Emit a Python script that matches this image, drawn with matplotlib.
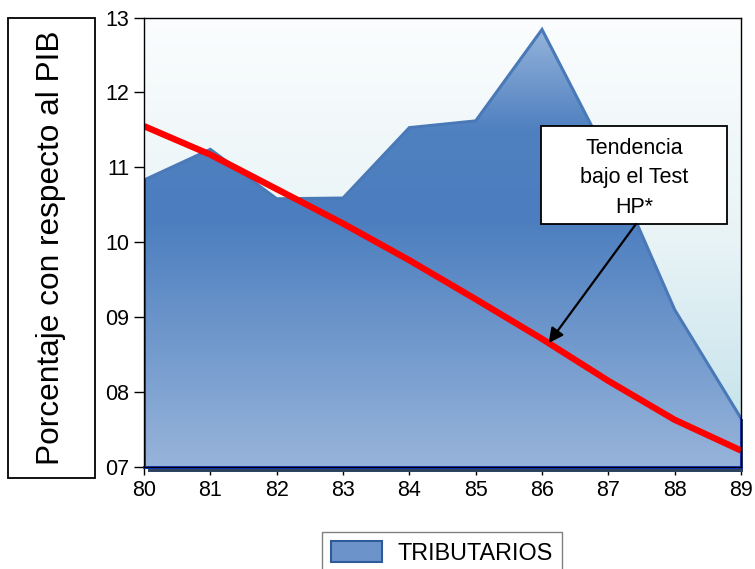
import numpy as np
import matplotlib
matplotlib.use("Agg")
import matplotlib.pyplot as plt
from matplotlib.colors import LinearSegmentedColormap
from matplotlib.patches import Rectangle, Patch

plt.rcParams['font.family'] = ['Liberation Sans', 'DejaVu Sans']

# --- DATA ---
years = [80, 81, 82, 83, 84, 85, 86, 87, 88, 89]
tributarios = [10.83, 11.24, 10.58, 10.59, 11.53, 11.62, 12.84, 11.12, 9.10, 7.65]
hp_trend = [11.55, 11.17, 10.71, 10.25, 9.76, 9.24, 8.71, 8.15, 7.63, 7.22]
y_ticks = [7, 8, 9, 10, 11, 12, 13]
y_tick_labels = ["%02d" % v for v in y_ticks]

x = np.array(years, dtype=float)
y = np.array(tributarios)
trend = np.array(hp_trend)

# --- FIGURE ---
fig = plt.figure(figsize=(7.55, 5.69), dpi=100)
ax = fig.add_axes([144/755, 1 - 467/569, 597/755, 449.5/569])
ax.set_xlim(x[0], x[-1])
ax.set_ylim(7, 13)

# background gradient (white at top -> pale cyan at bottom)
bg_cmap = LinearSegmentedColormap.from_list("bg", ["#bfe0e9", "#e8f3f6", "#fbfdfe"])
grad = np.linspace(0, 1, 256).reshape(-1, 1)
ax.imshow(grad, cmap=bg_cmap, origin="lower", aspect="auto",
          extent=[x[0], x[-1], 7, 13], zorder=0)

# area with vertical gradient, clipped to the filled polygon
area = ax.fill_between(x, 7, y, facecolor="none", edgecolor="none", zorder=1)
area_cmap = LinearSegmentedColormap.from_list(
    "area", [(0.0, "#97b4da"), (0.55, "#4c7ebf"), (0.75, "#4f80c0"), (1.0, "#9cb9dd")])
img = ax.imshow(grad, cmap=area_cmap, origin="lower", aspect="auto",
                extent=[x[0], x[-1], 7, 13], zorder=2)
img.set_clip_path(area.get_paths()[0], transform=ax.transData)

# outline of the area
ax.plot(x, y, color="#4a79b8", lw=2.2, zorder=3, solid_joinstyle="miter")
ax.plot([x[0], x[0]], [7, y[0]], color="#1e3ed2", lw=2.2, zorder=3)
ax.plot([x[-1], x[-1]], [7, y[-1]], color="#1e3ed2", lw=2.2, zorder=3)
ax.plot([x[0], x[-1]], [7.005, 7.005], color="#1e3ed2", lw=2.2, zorder=3, clip_on=False)

# drop shadow below and right of the area
ax.add_patch(Rectangle((0.006, -0.012), 0.997, 0.009, transform=ax.transAxes,
                       facecolor="#2c4460", edgecolor="none", clip_on=False, zorder=2))
ax.add_patch(Rectangle((1.0, -0.012), 0.004, (y[-1] - 7) / 6 + 0.01, transform=ax.transAxes,
                       facecolor="#2c4460", edgecolor="none", clip_on=False, zorder=2))

# HP trend line
ax.plot(x, trend, color="#ff0000", lw=4.6, zorder=5, solid_capstyle="butt")

# annotation box and arrow
ax.add_patch(Rectangle((0.665, 0.5406), 0.3115, 0.218, transform=ax.transAxes,
                       facecolor="white", edgecolor="black", lw=1.3, zorder=6))
ax.text(0.821, 0.643, "Tendencia\nbajo el Test\nHP*", transform=ax.transAxes,
        ha="center", va="center", fontsize=15.5, linespacing=1.55, zorder=7)
ax.annotate("", xy=(86.1, np.interp(86.1, x, trend)), xytext=(0.824, 0.5406),
            textcoords="axes fraction",
            arrowprops=dict(arrowstyle="-|>", color="black", lw=1.6, mutation_scale=22,
                            shrinkA=0, shrinkB=0),
            zorder=7)

# axes styling
for s in ax.spines.values():
    s.set_color("black")
    s.set_linewidth(1.0)
    s.set_zorder(8)
ax.set_xticks(years)
ax.set_xticklabels([str(v) for v in years])
ax.set_yticks(y_ticks)
ax.set_yticklabels(y_tick_labels)
ax.tick_params(axis="both", labelsize=15.5, color="black", width=1.0)
ax.tick_params(axis="y", length=7.5, pad=3)
ax.tick_params(axis="x", length=6, pad=3)

# y label inside its own box
fig.add_artist(Rectangle((8/755, 1 - 478/569), 87/755, 460/569, transform=fig.transFigure,
                         facecolor="white", edgecolor="black", lw=1.3))
fig.text(51/755, 1 - 248/569, "Porcentaje con respecto al PIB", rotation=90,
         ha="center", va="center", fontsize=22.8)

# legend below the chart
handle = Patch(facecolor="#6d94ca", edgecolor="#2f5b9a", lw=1.5)
fig.legend([handle], ["TRIBUTARIOS"], loc="upper center",
           bbox_to_anchor=(442/755, 1 - 532/569), borderaxespad=0, fontsize=16.8,
           fancybox=False, edgecolor="#808080", framealpha=1, handlelength=2.2,
           handleheight=1.0, handletextpad=0.65, borderpad=0.4)

fig.savefig("out.png", dpi=100)
